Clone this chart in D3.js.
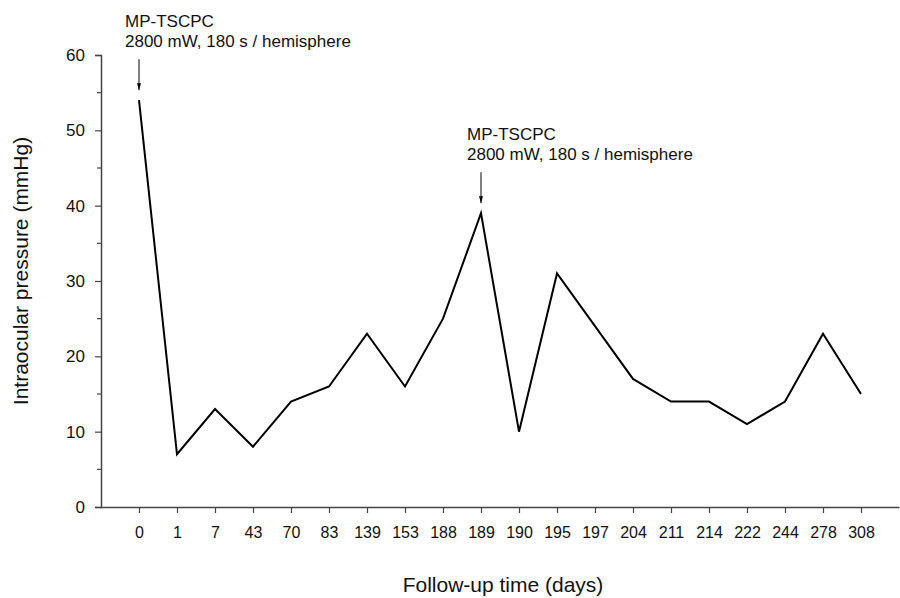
<!DOCTYPE html>
<html>
<head>
<meta charset="utf-8">
<script src="https://cdn.jsdelivr.net/npm/d3@7"></script>
<style>
  body { margin: 0; background: #fff; }
  svg { font-family: "Liberation Sans", Arial, sans-serif; }
</style>
</head>
<body>
<div id="chart"></div>
<script>
// follow-up days (categorical x axis) and IOP readings
const days = ['0', '1', '7', '43', '70', '83', '139', '153', '188', '189',
  '190', '195', '197', '204', '211', '214', '222', '244', '278', '308'];
const iop = [54, 7, 13, 8, 14, 16, 23, 16, 25, 39,
  10, 31, 24, 17, 14, 14, 11, 14, 23, 15];
const yTicks = [0, 10, 20, 30, 40, 50, 60];
const yMinor = [5, 15, 25, 35, 45, 55];
// treatments marked with arrows
const notes = [
  { day: '0', value: 54, lines: ['MP-TSCPC', '2800 mW, 180 s / hemisphere'] },
  { day: '189', value: 39, lines: ['MP-TSCPC', '2800 mW, 180 s / hemisphere'] }
];

const width = 900;
const height = 598;
const margin = { left: 101, right: 1, top: 55, bottom: 91 };

const svg = d3.select('#chart')
  .append('svg')
  .attr('width', width)
  .attr('height', height);

// one empty step each side of the categories
const x = d3.scaleLinear()
  .domain([-1, days.length])
  .range([margin.left, width - margin.right]);
const y = d3.scaleLinear()
  .domain([0, 60])
  .range([height - margin.bottom, margin.top]);

const axisColor = '#444';

/* y axis */
const yAxis = svg.append('g')
  .attr('transform', `translate(${margin.left},0)`)
  .call(d3.axisLeft(y).tickValues(yTicks).tickSize(6).tickPadding(10));
yAxis.select('.domain').attr('stroke', axisColor).attr('stroke-width', 1.5);
yAxis.selectAll('.tick line').attr('stroke', axisColor).attr('stroke-width', 1.2);
yAxis.selectAll('.tick text').attr('font-size', 17).attr('fill', '#111')
  .attr('font-family', '"Liberation Sans", Arial, sans-serif');

svg.append('g')
  .selectAll('line')
  .data(yMinor)
  .enter()
  .append('line')
  .attr('x1', margin.left - 4)
  .attr('x2', margin.left)
  .attr('y1', d => y(d))
  .attr('y2', d => y(d))
  .attr('stroke', axisColor)
  .attr('stroke-width', 1.2);

/* x axis */
const xAxis = svg.append('g')
  .attr('transform', `translate(0,${y(0)})`)
  .call(d3.axisBottom(x)
    .tickValues(d3.range(days.length))
    .tickFormat(i => days[i])
    .tickSize(6)
    .tickSizeOuter(0));
xAxis.select('.domain').attr('stroke', axisColor).attr('stroke-width', 1.5);
xAxis.selectAll('.tick line').attr('stroke', axisColor).attr('stroke-width', 1.2);
xAxis.selectAll('.tick text')
  .attr('font-size', 16)
  .attr('fill', '#111')
  .attr('y', 31)
  .attr('dy', 0)
  .attr('font-family', '"Liberation Sans", Arial, sans-serif');

/* axis titles */
svg.append('text')
  .attr('transform', 'translate(28,271) rotate(-90)')
  .attr('text-anchor', 'middle')
  .attr('font-size', 21)
  .attr('fill', '#111')
  .text('Intraocular pressure (mmHg)');

svg.append('text')
  .attr('x', 503)
  .attr('y', 592)
  .attr('text-anchor', 'middle')
  .attr('font-size', 21)
  .attr('fill', '#111')
  .text('Follow-up time (days)');

/* line */
const line = d3.line()
  .x((d, i) => x(i))
  .y(d => y(d));

svg.append('path')
  .datum(iop)
  .attr('fill', 'none')
  .attr('stroke', '#000')
  .attr('stroke-width', 2)
  .attr('stroke-linejoin', 'miter')
  .attr('d', line);

/* annotations */
svg.append('defs')
  .append('marker')
  .attr('id', 'arrow')
  .attr('viewBox', '0 0 7 4')
  .attr('refX', 7)
  .attr('refY', 2)
  .attr('markerWidth', 7)
  .attr('markerHeight', 4)
  .attr('orient', 'auto')
  .append('path')
  .attr('d', 'M0,0 L7,2 L0,4 Z')
  .attr('fill', '#000');

notes.forEach(n => {
  const nx = x(days.indexOf(n.day));
  const ny = y(n.value);
  svg.append('line')
    .attr('x1', nx)
    .attr('x2', nx)
    .attr('y1', ny - 41)
    .attr('y2', ny - 10)
    .attr('stroke', '#000')
    .attr('stroke-width', 1)
    .attr('marker-end', 'url(#arrow)');
  svg.append('text')
    .attr('font-size', 17)
    .attr('fill', '#111')
    .selectAll('tspan')
    .data(n.lines)
    .enter()
    .append('tspan')
    .attr('x', nx - 14)
    .attr('y', (d, i) => ny - 73 + i * 20)
    .text(d => d);
});
</script>
</body>
</html>
